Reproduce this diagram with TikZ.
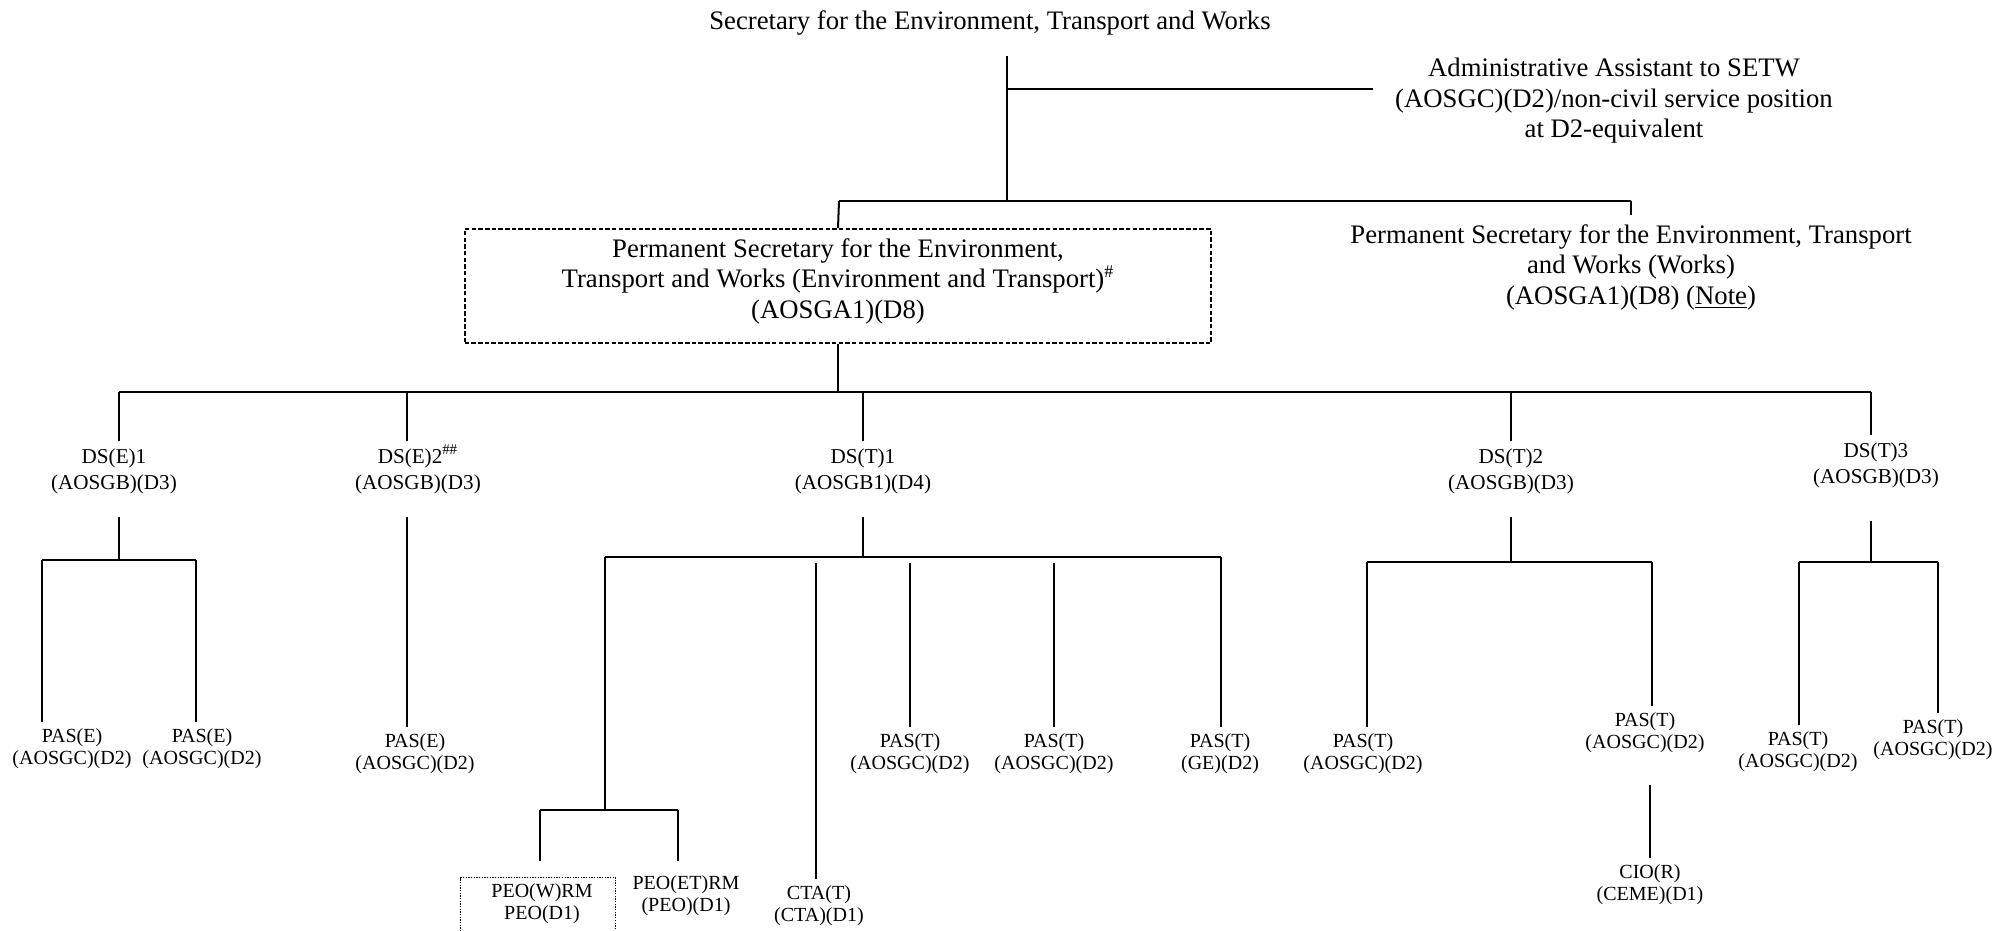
\documentclass[tikz,border=0pt]{standalone}
\usepackage{fontspec}
\setmainfont{Liberation Serif}

\begin{document}
\begin{tikzpicture}[x=0.0158cm,y=-0.0158cm,
        every node/.style={inner sep=0pt, align=center},
        big/.style={font=\fontsize{12}{13.7}\selectfont},
        ds/.style={font=\fontsize{9.5}{11.7}\selectfont, anchor=north, outer ysep=3.5pt},
        pas/.style={font=\fontsize{9}{10}\selectfont, anchor=north, outer ysep=3pt},
        ln/.style={line width=0.9pt},
        bar/.style={line width=1.3pt}]
    \useasboundingbox (0,0) rectangle (1993,931);

    \node[big, anchor=base] (setw) at (990,30) {Secretary for the Environment, Transport and Works};
    \node[big, anchor=north] (aa) at (1614,58)
        {Administrative Assistant to SETW\\(AOSGC)(D2)/non-civil service position\\at D2-equivalent};
    \node[big, draw, line width=0.9pt, dash pattern=on 2pt off 1pt,
          minimum width=11.79cm, minimum height=1.8cm] (pset) at (838,286)
        {Permanent Secretary for the Environment,\\Transport and Works (Environment and Transport)\textsuperscript{\#}\\(AOSGA1)(D8)\rule[-7pt]{0pt}{7pt}};
    \node[big, anchor=north] (psw) at (1631,224)
        {Permanent Secretary for the Environment, Transport\\and Works (Works)\\(AOSGA1)(D8) (\underline{Note})};

    \node[ds] (dse1) at (114,441) {DS(E)1\\(AOSGB)(D3)};
    \node[ds] (dse2) at (418,441) {DS(E)2\smash{\textsuperscript{\#\#}}\\(AOSGB)(D3)};
    \node[ds] (dst1) at (863,441) {DS(T)1\\(AOSGB1)(D4)};
    \node[ds] (dst2) at (1511,441) {DS(T)2\\(AOSGB)(D3)};
    \node[ds] (dst3) at (1876,435) {DS(T)3\\(AOSGB)(D3)};

    \node[pas] (pase1) at (72,722) {PAS(E)\\(AOSGC)(D2)};
    \node[pas] (pase2) at (202,722) {PAS(E)\\(AOSGC)(D2)};
    \node[pas] (pase3) at (415,727) {PAS(E)\\(AOSGC)(D2)};
    \node[pas] (past1) at (910,727) {PAS(T)\\(AOSGC)(D2)};
    \node[pas] (past2) at (1054,727) {PAS(T)\\(AOSGC)(D2)};
    \node[pas] (past3) at (1220,727) {PAS(T)\\(GE)(D2)};
    \node[pas] (past4) at (1363,727) {PAS(T)\\(AOSGC)(D2)};
    \node[pas] (past5) at (1645,706) {PAS(T)\\(AOSGC)(D2)};
    \node[pas] (past6) at (1798,725) {PAS(T)\\(AOSGC)(D2)};
    \node[pas] (past7) at (1933,713) {PAS(T)\\(AOSGC)(D2)};
    \node[pas] (cio) at (1650,858) {CIO(R)\\(CEME)(D1)};
    \node[pas] (peow) at (542,877) {PEO(W)RM\\PEO(D1)};
    \node[pas] (peoet) at (686,869) {PEO(ET)RM\\(PEO)(D1)};
    \node[pas] (cta) at (819,879) {CTA(T)\\(CTA)(D1)};
    \node[draw, line width=0.6pt, dash pattern=on 0.6pt off 0.6pt, anchor=north west,
          minimum width=2.45cm, minimum height=1.4cm] (peobox) at (460,877) {};

    \coordinate (b0) at (1007,201);
    \coordinate (b1) at (839,201);
    \coordinate (b2) at (1631,201);
    \coordinate (aa1) at (1007,89);
    \coordinate (m0) at (839,392);
    \coordinate (m1) at (119,392);
    \coordinate (m2) at (407,392);
    \coordinate (m3) at (863,392);
    \coordinate (m4) at (1511,392);
    \coordinate (m5) at (1871,392);

    \draw[ln, shorten <=9pt] (setw.south -| b0) -- (b0);
    \draw[ln, shorten >=10pt] (aa1) -- (aa.west |- aa1);
    \draw[bar] (b1) -- (b2);
    \draw[ln] (b1) -- (pset.north);
    \draw[ln, shorten >=4pt] (b2) -- (psw.north);
    \draw[ln] (pset.south) -- (pset.south |- m0);
    \draw[bar] (m1) -- (m5);
    \draw[ln] (m1) -- (m1 |- dse1.north)
              (m2) -- (m2 |- dse2.north)
              (m3) -- (m3 |- dst1.north)
              (m4) -- (m4 |- dst2.north)
              (m5) -- (m5 |- dst3.north);

    \coordinate (e1) at (119,560);
    \coordinate (e1a) at (42,560);
    \coordinate (e1b) at (196,560);
    \draw[ln, shorten <=7pt] (dse1.south -| e1) -- (e1);
    \draw[bar] (e1a) -- (e1b);
    \draw[ln] (e1a) -- (e1a |- pase1.north)
              (e1b) -- (e1b |- pase2.north);

    \draw[ln, shorten <=7pt] (dse2.south -| m2) -- (m2 |- pase3.north);

    \coordinate (t1) at (863,557);
    \coordinate (t1a) at (605,557);
    \coordinate (t1b) at (816,563);
    \coordinate (t1c) at (910,563);
    \coordinate (t1d) at (1054,563);
    \coordinate (t1e) at (1221,557);
    \coordinate (p0) at (605,810);
    \coordinate (p1) at (540,810);
    \coordinate (p2) at (678,810);
    \draw[ln, shorten <=7pt] (dst1.south) -- (t1);
    \draw[bar] (t1a) -- (t1e);
    \draw[ln] (t1a) -- (p0);
    \draw[bar] (p1) -- (p2);
    \draw[ln, shorten >=7pt] (p1) -- (p1 |- peow.north);
    \draw[ln, shorten >=3.5pt] (p2) -- (p2 |- peoet.north);
    \draw[ln] (t1b) -- (t1b |- cta.north)
              (t1c) -- (t1c |- past1.north)
              (t1d) -- (t1d |- past2.north)
              (t1e) -- (t1e |- past3.north);

    \coordinate (s0) at (1511,562);
    \coordinate (s1) at (1367,562);
    \coordinate (s2) at (1652,562);
    \draw[ln, shorten <=7pt] (dst2.south) -- (s0);
    \draw[bar] (s1) -- (s2);
    \draw[ln] (s1) -- (s1 |- past4.north)
              (s2) -- (s2 |- past5.north);
    \draw[ln, shorten <=11.5pt] (past5.south -| cio.north) -- (cio.north);

    \coordinate (u0) at (1871,562);
    \coordinate (u1) at (1799,562);
    \coordinate (u2) at (1938,562);
    \draw[ln, shorten <=11.5pt] (dst3.south -| u0) -- (u0);
    \draw[bar] (u1) -- (u2);
    \draw[ln] (u1) -- (u1 |- past6.north)
              (u2) -- (u2 |- past7.north);
\end{tikzpicture}
\end{document}
